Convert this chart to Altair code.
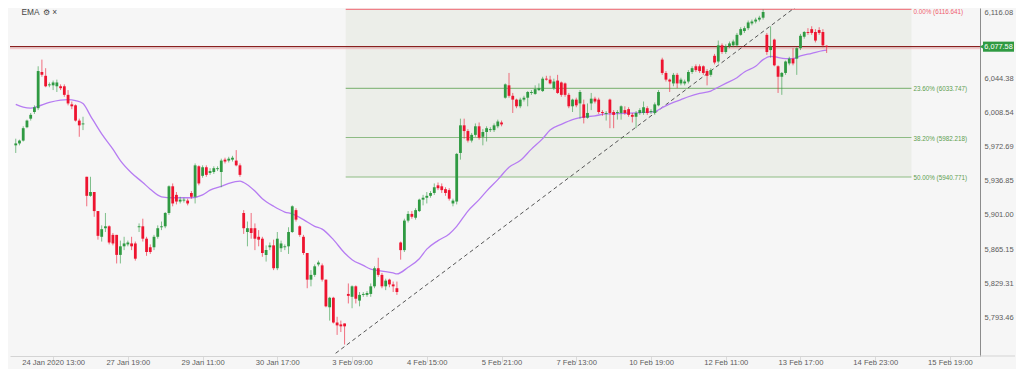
import altair as alt
import pandas as pd

# ---------------- data ----------------
opens = [5974,5976,5979,5993,6002,6009,6013,6051,6047,6037,6037,6036,6036,6036,6027,6017,6016,6000,5996,
         5941,5921,5925,5905,5878,5887,5889,5880,5880,5859,5868,5870,5871,5871,5888,5889,5876,5867,5867,5878,5888,
         5889,5903,5931,5922,5915,5916,5916,5924,5920,5952,5942,5951,5945,5946,5949,5946,5959,5958,5959,5958,5953,
         5903,5883,5887,5887,5878,5876,5859,5867,5869,5845,5866,5867,5868,5883,5906,5889,5878,5861,5833,5838,5849,
         5848,5833,5804,5814,5788,5786,5787,
         5818,5815,5826,5811,5817,5817,5818,5826,5845,5838,5826,5833,5828,5824,
         5872,5864,5895,5902,5898,5905,5917,5919,5921,5924,5932,5931,5928,5927,5913,5915,5966,5995,5989,5979,5985,
         5994,5983,5988,5990,5990,5994,5998,
         6024,6037,6026,6022,6015,6022,6024,6029,6028,6032,6031,6044,6043,6034,6042,6040,6039,6027,6015,6022,6018,
         6017,6003,6018,6023,6022,6009,6007,6022,6009,6008,6008,6011,6012,6006,6004,6008,6008,6013,6009,6008,6016,
         6064,6050,6043,6039,6048,6039,6039,6041,6051,6057,6057,6057,6052,6048,6068,6062,6079,6072,6078,6079,6079,
         6090,6094,6097,6102,6104,6106,6108,6090,6074,6085,6057,6046,6050,6060,6065,6065,6076,6088,6093,6096,6093,
         6095,6093,6078.5]
highs = [5981,5980,5994,6001,6008,6016,6057,6064,6055,6040,6042,6043,6038,6038,6032,6020,6017,6002,6004,
         5941,5941,5925,5905,5890,5903,5890,5882,5880,5874,5878,5874,5878,5873,5892,5897,5878,5870,5880,5890,5894,
         5904,5932,5934,5925,5920,5919,5918,5926,5955,5953,5953,5953,5950,5952,5952,5960,5961,5962,5963,5969,5955,
         5906,5894,5903,5892,5885,5878,5869,5872,5875,5883,5874,5870,5888,5911,5908,5890,5880,5861,5843,5849,5853,
         5850,5833,5815,5815,5794,5790,5787,
         5829,5827,5827,5820,5820,5821,5829,5847,5856,5840,5834,5834,5831,5831,
         5873,5897,5905,5905,5908,5918,5922,5925,5926,5934,5935,5934,5930,5929,5918,5966,6002,6002,5991,5987,5997,
         5998,5991,5994,5993,5997,6001,6000,
         6039,6050,6029,6023,6024,6026,6031,6032,6037,6039,6046,6047,6047,6044,6048,6041,6040,6029,6023,6024,6032,
         6022,6018,6029,6025,6024,6011,6010,6023,6011,6011,6016,6015,6014,6008,6010,6013,6020,6015,6012,6019,6032,
         6066,6052,6044,6050,6050,6045,6043,6053,6057,6059,6059,6058,6054,6055,6070,6084,6081,6080,6083,6085,6092,
         6098,6099,6105,6106,6108,6110,6116.641,6092,6099,6086,6058,6051,6063,6067,6076,6077,6091,6094,6097,6099,
         6096,6098,6096,6079]
lows = [5966,5974,5978,5992,6000,6007,6011,6046,6035,6035,6032,6030,6032,6025,6016,6012,5999,5983,5990,
        5910,5920,5899,5875,5873,5883,5870,5869,5850,5850,5864,5868,5864,5853,5883,5873,5858,5860,5864,5876,5885,
        5887,5901,5910,5912,5913,5914,5911,5918,5913,5932,5940,5941,5943,5944,5947,5930,5955,5956,5957,5952,5941,
        5881,5868,5876,5864,5868,5857,5852,5864,5843,5843,5862,5864,5860,5882,5894,5878,5859,5824,5826,5836,5847,
        5831,5804,5790,5787,5775,5778,5764.901,
        5808,5803,5808,5805,5815,5815,5815,5824,5836,5824,5822,5825,5820,5817,
        5854,5862,5893,5897,5896,5904,5911,5913,5919,5922,5927,5924,5921,5916,5910,5912,5959,5981,5977,5977,5983,
        5980,5974,5978,5988,5988,5992,5994,
        6023,6024,6008,6013,6013,6020,6015,6027,6027,6031,6030,6042,6038,6032,6028,6025,6025,6013,6009,6014,6002,
        5997,6002,6011,6018,6007,6005,6000,5992,5992,6001,6001,6006,6004,5998,5992,6006,6006,6006,6007,6006,6015,
        6048,6041,6030,6036,6034,6037,6037,6039,6049,6051,6050,6048,6037,6046,6059,6060,6070,6070,6076,6077,6077,
        6089,6092,6095,6100,6102,6104,6106,6069,6066,6057,6029,6027,6048,6058,6058,6048,6074,6086,6090,6090,6082,
        6090,6077,6071]
closes = [5976,5979,5992,6000,6006,6014,6052,6048,6036,6038,6040,6040,6034,6027,6018,6015,6000,5995,5997,
          5921,5925,5905,5879,5886,5889,5872,5871,5859,5868,5871,5872,5868,5855,5889,5876,5862,5862,5878,5887,5889,
          5903,5931,5913,5915,5917,5917,5913,5920,5953,5934,5951,5943,5947,5950,5950,5958,5957,5960,5961,5953,5943,
          5887,5887,5882,5876,5875,5861,5864,5869,5845,5876,5871,5868,5883,5910,5896,5880,5861,5833,5838,5847,5851,
          5833,5805,5814,5788,5785,5784,5784,
          5816,5826,5813,5817,5818,5819,5826,5845,5838,5826,5832,5828,5826,5820,
          5864,5895,5902,5899,5906,5917,5919,5921,5924,5930,5929,5927,5924,5918,5916,5965,5995,5989,5979,5985,5994,
          5982,5988,5992,5991,5995,5999,5996,
          6038,6026,6022,6015,6022,6024,6030,6030,6033,6034,6044,6043,6039,6041,6029,6027,6027,6015,6022,6016,6030,
          6003,6008,6023,6020,6009,6008,6008,6008,6006,6009,6015,6008,6006,6004,6008,6011,6014,6008,6010,6017,6030,
          6050,6043,6041,6048,6039,6043,6041,6051,6055,6053,6052,6050,6047,6053,6061,6079,6072,6078,6081,6083,6090,
          6096,6097,6103,6104,6106,6108,6114,6072,6078,6058,6046,6050,6062,6065,6060,6076,6089,6093,6092,6092,6084,
          6092,6079,6077.58]

ema_idx = [0,2,4,6,9,12,14,16,18,20,23,26,28,31,34,36,39,42,44,47,50,52,55,57,60,61,64,66,69,72,74,77,80,82,
           85,88,90,93,95,98,101,102,105,108,110,113,116,118,121,124,126,129,132,135,138,141,143,146,149,151,155,
           158,163,167,171,173,176,178,180,183,186,187,190,193,195,198,200,202,203,206,208,210,213,216,217]
ema_val = [6017,6014,6013,6015,6019,6021.5,6022,6021,6018,6005,5986,5970,5958,5945,5935,5928,5920,5919,5919,
           5919,5922,5927,5931,5934,5936.5,5935,5926,5918,5910,5904,5902,5896,5889,5886,5875,5861,5854,5848,5844,
           5842,5840,5839,5846,5855,5865,5874,5881,5889,5905,5917,5926,5938,5951,5958,5970,5981,5990,5996,6001,
           6003,6005,6007,6007.6,6008.3,6009.5,6013.6,6019,6022,6025,6028.6,6031,6033,6039,6045,6051,6057,6064,
           6067.5,6067,6065,6065,6067.8,6070.6,6073.5,6074]

fib_pct = ["0.00%", "23.60%", "38.20%", "50.00%"]
fib_val = [6116.641, 6033.747, 5982.218, 5940.771]
fib_from_idx = 88.3
fib_to_idx = 239.7

trend_idx = [85.6, 208.7]
trend_val = [5755.7, 6119.2]

x_tick_idx = [10, 30, 50, 70, 90, 110, 130, 150, 170, 190, 210, 230, 250]
x_tick_lbl = ["24 Jan 2020 13:00", "27 Jan 19:00", "29 Jan 11:00", "30 Jan 17:00", "3 Feb 09:00",
              "4 Feb 15:00", "5 Feb 21:00", "7 Feb 13:00", "10 Feb 19:00", "12 Feb 11:00",
              "13 Feb 17:00", "14 Feb 23:00", "15 Feb 19:00"]
y_tick_vals = [6116.08, 6080.23, 6044.38, 6008.54, 5972.69, 5936.85, 5901.00, 5865.15, 5829.31, 5793.46]

# ---------------- tables ----------------
n = len(closes)
rows = []
for i in range(n):
    o, h, l, c = opens[i], highs[i], lows[i], closes[i]
    top, bot = max(o, c), min(o, c)
    if top - bot < 1.0:
        top, bot = (top + bot) / 2 + 0.5, (top + bot) / 2 - 0.5
    rows.append(dict(i=i, o=o, h=h, l=l, c=c, top=top, bot=bot, d="up" if c >= o else "down"))
df = pd.DataFrame(rows)

W, H = 970, 348
GREEN, RED = "#2f9a42", "#ee1430"
FONT = "Liberation Sans"
xs = alt.Scale(domain=[-0.2, 256.7], nice=False, zero=False)
ys = alt.Scale(domain=[5752.85, 6118.18], nice=False, zero=False)

label_expr = "[" + ",".join("'%s'" % s for s in x_tick_lbl) + "][round((datum.value-10)/20)]"
x_axis = alt.Axis(values=x_tick_idx, labelExpr=label_expr, title=None, grid=False,
                  domainColor="#d4d4d4", tickColor="#dadada", tickSize=6, labelPadding=-4,
                  labelColor="#5c5c5c", labelFontSize=7.6, labelFont=FONT, labelAngle=0,
                  labelBaseline="top")
y_axis = alt.Axis(orient="right", values=y_tick_vals, format=",.2f", title=None, grid=False,
                  ticks=False, domainColor="#8c8c8c", labelPadding=4, labelColor="#5c5c5c",
                  labelFontSize=7.5, labelFont=FONT,
                  labelOffset={"condition": {"test": "datum.value > 6110", "value": 2}, "value": 0})


def X(f):
    return alt.X(f, scale=xs, axis=x_axis)


def Y(f):
    return alt.Y(f, scale=ys, axis=y_axis)


up_color = alt.condition("datum.d == 'up'", alt.value(GREEN), alt.value(RED))

# fib box
fib_box_df = pd.DataFrame({"x": [fib_from_idx], "x2": [fib_to_idx], "y": [fib_val[0]], "y2": [fib_val[-1]]})
fib_box = alt.Chart(fib_box_df).mark_rect(color="#eceee9").encode(
    x=X("x:Q"), x2="x2:Q", y=Y("y:Q"), y2="y2:Q")

fib_df = pd.DataFrame({"pct": fib_pct, "v": fib_val, "x": fib_from_idx, "x2": fib_to_idx})
fib_df["lbl"] = [f"{p} ({v:.3f})" for p, v in zip(fib_pct, fib_val)]
fib_df["k"] = ["zero"] + ["lvl"] * (len(fib_pct) - 1)
fib_lines = alt.Chart(fib_df).mark_rule(strokeWidth=1.2).encode(
    x=X("x:Q"), x2="x2:Q", y=Y("v:Q"),
    color=alt.condition("datum.k == 'zero'", alt.value("#ef8088"), alt.value("#8dbb84")))
fib_text_zero = alt.Chart(fib_df).transform_filter("datum.k == 'zero'").mark_text(
    align="left", baseline="middle", dx=2, dy=2.2, fontSize=6.3, font=FONT, color="#f0606e").encode(
    x=X("x2:Q"), y=Y("v:Q"), text="lbl:N")
fib_text_lvl = alt.Chart(fib_df).transform_filter("datum.k != 'zero'").mark_text(
    align="left", baseline="middle", dx=2, dy=1, fontSize=6.3, font=FONT, color="#5e9e50").encode(
    x=X("x2:Q"), y=Y("v:Q"), text="lbl:N")

last_close = closes[-1]
price_df = pd.DataFrame({"v": [last_close]})
price_line2 = alt.Chart(price_df).mark_rule(color="#f4b0b4", strokeWidth=0.8).encode(
    x=alt.value(0), x2=alt.value(W), y=Y("v:Q"), yOffset=alt.value(2))
price_line = alt.Chart(price_df).mark_rule(color="#8a2020", strokeWidth=1.2).encode(
    x=alt.value(0), x2=alt.value(W), y=Y("v:Q"))

trend_df = pd.DataFrame({"i": trend_idx, "v": trend_val})
trend = alt.Chart(trend_df).mark_line(color="#555555", strokeWidth=1, strokeDash=[4, 3], clip=True).encode(
    x=X("i:Q"), y=Y("v:Q"))

ema_df = pd.DataFrame({"i": ema_idx, "v": ema_val})
ema = alt.Chart(ema_df).mark_line(color="#b67cf2", strokeWidth=1.3, interpolate="monotone").encode(
    x=X("i:Q"), y=Y("v:Q"))

wicks = alt.Chart(df).mark_rule(strokeWidth=1, opacity=0.6).encode(
    x=X("i:Q"), y=Y("l:Q"), y2="h:Q", color=up_color)
bodies = alt.Chart(df).mark_bar(size=2.8).encode(
    x=X("i:Q"), y=Y("bot:Q"), y2="top:Q", color=up_color)

# price tag on the right axis
tag_df = pd.DataFrame({"v": [last_close], "hi": [last_close + 5.3], "lo": [last_close - 5.3],
                       "t": [f"{last_close:,.2f}"]})
tag_rect = alt.Chart(tag_df).mark_rect(color="#2f9a42").encode(
    x=alt.value(973), x2=alt.value(1004), y=Y("hi:Q"), y2="lo:Q")
tag_arrow = alt.Chart(tag_df).mark_point(shape="triangle-left", filled=True, color="#2f9a42",
                                         size=28, opacity=1).encode(
    x=alt.value(972), y=Y("v:Q"))
tag_text = alt.Chart(tag_df).mark_text(color="white", fontSize=7.3, font=FONT, align="center",
                                       baseline="middle").encode(
    x=alt.value(988.5), y=Y("v:Q"), text="t:N")

axis_ext = alt.Chart(pd.DataFrame({"a": [0]})).mark_rule(color="#d4d4d4").encode(
    x=alt.value(W), x2=alt.value(W + 35), y=alt.value(H))

leg_df = pd.DataFrame({"t": ["‾", "EMA", "⚙", "×"], "x": [3.3, 11.5, 32.7, 42.3], "y": [5.0, 5.3, 5.3, 5.0]})
legend = alt.Chart(leg_df).mark_text(align="left", baseline="middle", fontSize=8.3, font=FONT,
                                     color="#444444").encode(
    x=alt.X("x:Q", scale=None, axis=None), y=alt.Y("y:Q", scale=None, axis=None), text="t:N")

chart = alt.layer(fib_box, fib_lines, fib_text_zero, fib_text_lvl, price_line2, price_line, trend, ema,
                  wicks, bodies, tag_arrow, tag_rect, tag_text, axis_ext, legend).properties(
    width=W, height=H, background="#f6f6f6",
    autosize=alt.AutoSizeParams(type="none"),
    padding={"left": 2, "top": 0, "right": 36, "bottom": 13},
).configure_view(strokeWidth=0)

chart.save("out.html", embed_options={"renderer": "svg", "actions": False})
